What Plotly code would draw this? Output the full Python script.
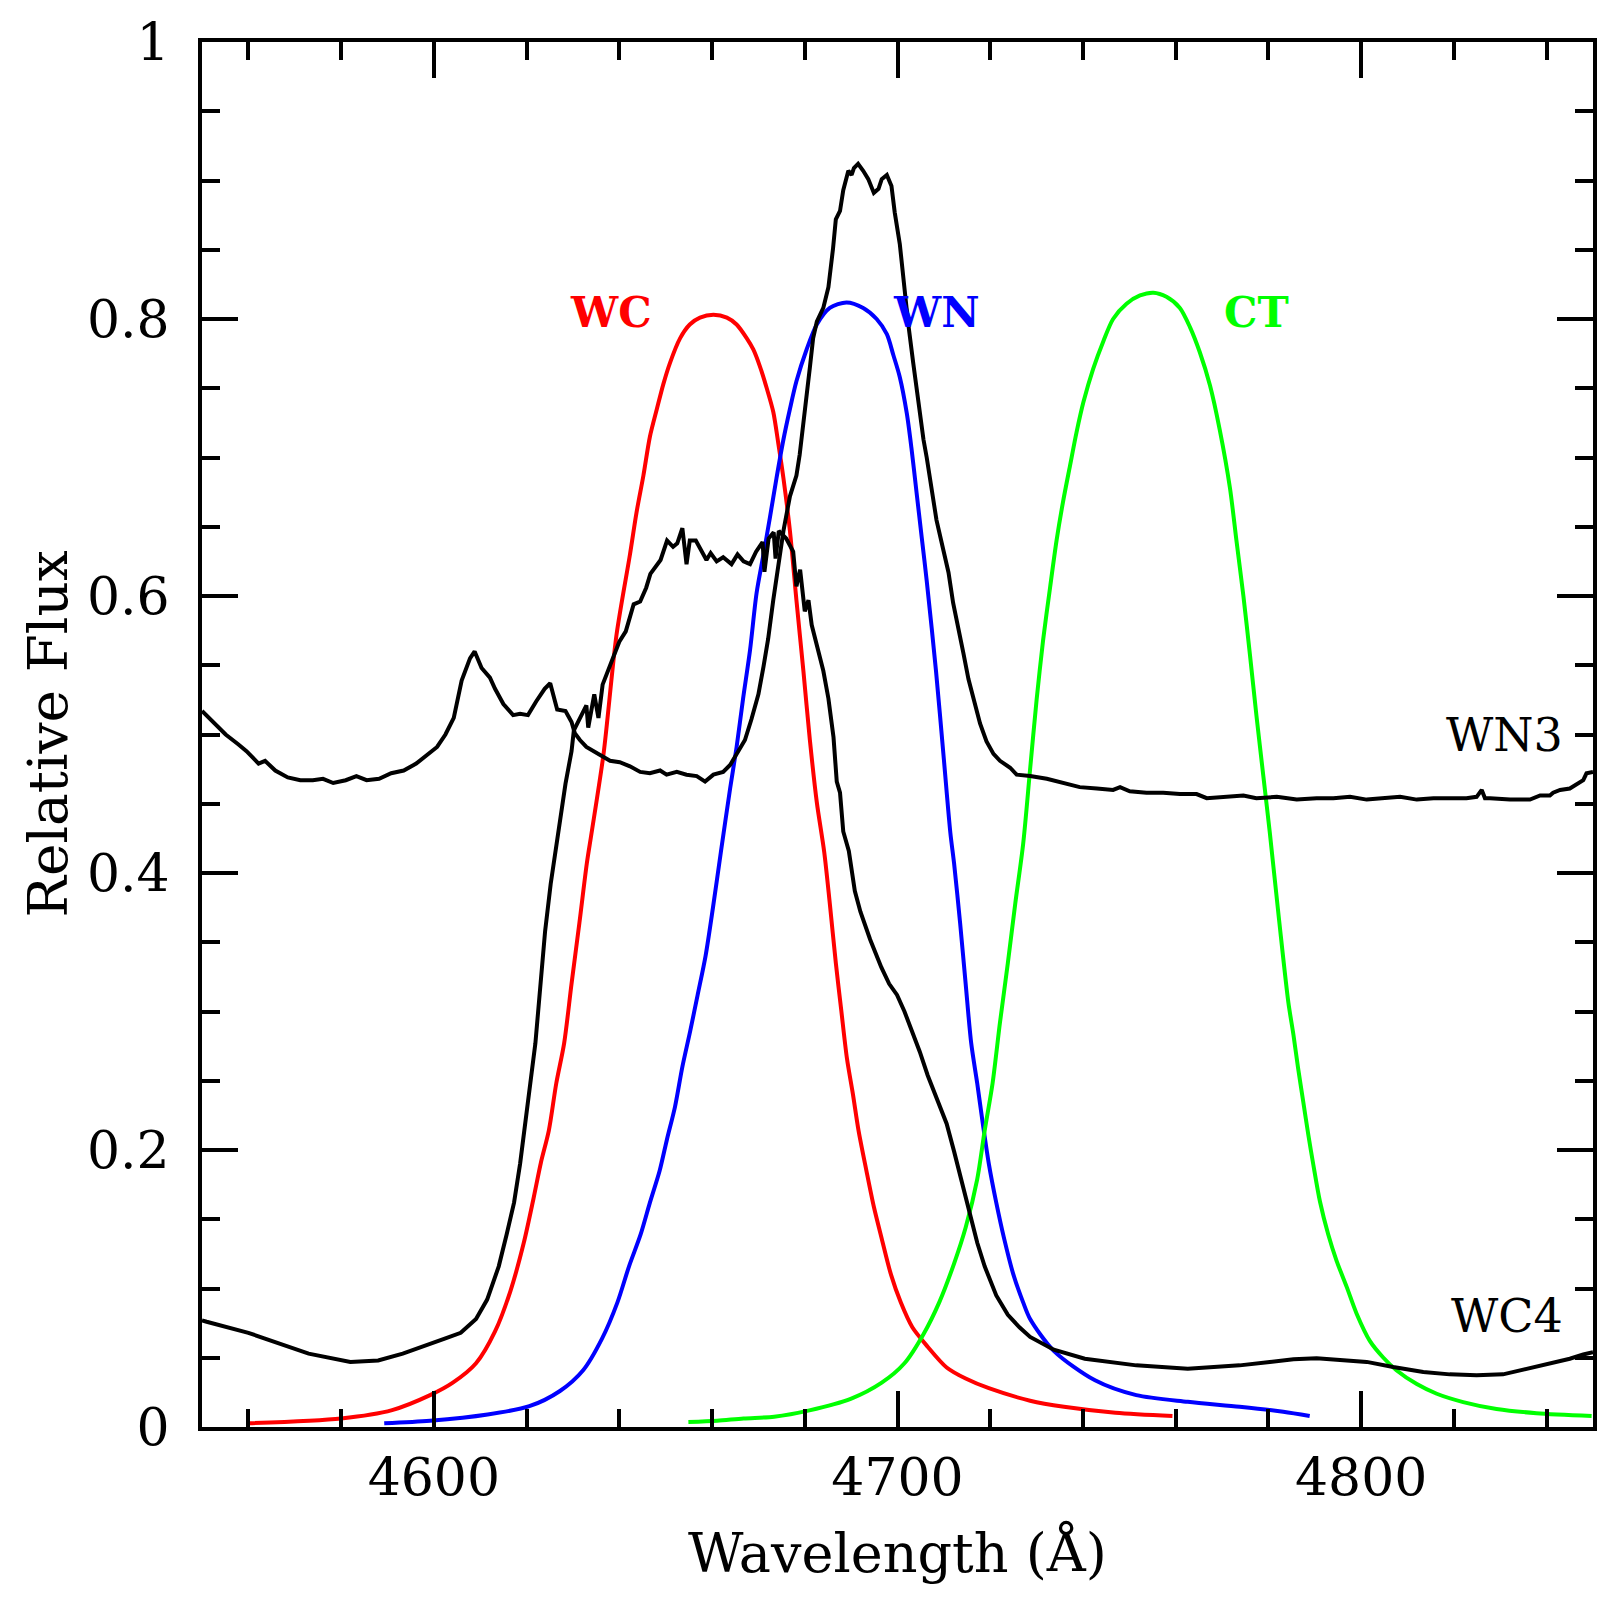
import plotly.graph_objects as go

# WN3 spectrum (upper black curve)
wn3_wave = [4550, 4550.6, 4553.3, 4555.1, 4557.8, 4559.6, 4562.2, 4563.6, 4565.8, 4568.5,
            4571.2, 4573.9, 4576.1, 4578.3, 4581.0, 4583.3, 4585.5, 4588.2, 4590.8, 4593.5,
            4596.2, 4598.9, 4600.7, 4602.5, 4604.3, 4606.0, 4607.8, 4608.8, 4610.3, 4612.1,
            4613.2, 4615.0, 4617.1, 4618.6, 4620.3, 4622.1, 4623.9, 4625.1, 4625.8, 4626.6,
            4628.4, 4629.7, 4630.4, 4631.5, 4632.9, 4634.4, 4635.8, 4638.0, 4640.1, 4642.3,
            4644.5, 4646.6, 4648.8, 4650.2, 4652.4, 4654.5, 4656.7, 4658.5, 4660.3, 4662.4,
            4663.9, 4665.3, 4667.1, 4668.5, 4670.0, 4671.1, 4672.1, 4673.2, 4674.3, 4675.4,
            4676.8, 4678.2, 4678.9, 4679.7, 4680.4, 4681.1, 4681.8, 4682.6, 4684.0, 4685.1,
            4686.1, 4686.7, 4687.6, 4688.3, 4689.4, 4690.1, 4690.6, 4691.5, 4692.6, 4693.7,
            4694.9, 4695.9, 4696.6, 4697.7, 4698.7, 4699.4, 4700.5, 4701.2, 4702.3, 4703.4,
            4704.5, 4705.6, 4706.3, 4707.4, 4708.4, 4709.9, 4711.0, 4712.0, 4713.1, 4714.2,
            4715.3, 4716.7, 4717.8, 4719.2, 4720.7, 4722.1, 4724.3, 4725.7, 4728.6, 4732.2,
            4735.8, 4739.3, 4743.0, 4746.5, 4748.0, 4750.1, 4753.7, 4757.3, 4760.9, 4764.5,
            4766.7, 4770.3, 4774.6, 4777.4, 4781.8, 4786.1, 4790.4, 4794.0, 4797.6, 4801.2,
            4804.8, 4808.4, 4812.0, 4815.6, 4819.1, 4822.7, 4824.9, 4826.0, 4826.7, 4827.8,
            4832.1, 4836.4, 4838.6, 4840.7, 4841.4, 4842.9, 4845.0, 4846.5, 4847.9, 4848.6, 4850]
wn3_flux = [0.517, 0.515, 0.507, 0.500, 0.493, 0.488, 0.479, 0.481, 0.474, 0.469,
            0.467, 0.467, 0.468, 0.465, 0.467, 0.470, 0.467, 0.468, 0.472, 0.474,
            0.479, 0.486, 0.491, 0.500, 0.512, 0.539, 0.555, 0.560, 0.548, 0.541,
            0.533, 0.522, 0.514, 0.515, 0.514, 0.524, 0.533, 0.537, 0.529, 0.518,
            0.517, 0.509, 0.501, 0.496, 0.491, 0.488, 0.486, 0.481, 0.480, 0.477,
            0.473, 0.472, 0.474, 0.471, 0.473, 0.471, 0.470, 0.466, 0.471, 0.473,
            0.478, 0.486, 0.496, 0.511, 0.529, 0.549, 0.569, 0.597, 0.622, 0.647,
            0.672, 0.687, 0.702, 0.723, 0.743, 0.765, 0.786, 0.798, 0.808, 0.823,
            0.851, 0.872, 0.878, 0.893, 0.907, 0.904, 0.909, 0.912, 0.907, 0.901,
            0.891, 0.894, 0.901, 0.904, 0.896, 0.877, 0.854, 0.829, 0.797, 0.768,
            0.739, 0.713, 0.700, 0.675, 0.655, 0.633, 0.617, 0.595, 0.578, 0.559,
            0.540, 0.521, 0.508, 0.495, 0.486, 0.481, 0.476, 0.471, 0.470, 0.468,
            0.465, 0.462, 0.461, 0.460, 0.462, 0.459, 0.458, 0.458, 0.457, 0.457,
            0.454, 0.455, 0.456, 0.454, 0.455, 0.453, 0.454, 0.454, 0.455, 0.453,
            0.454, 0.455, 0.453, 0.454, 0.454, 0.454, 0.455, 0.460, 0.454, 0.454,
            0.453, 0.453, 0.456, 0.456, 0.458, 0.460, 0.461, 0.464, 0.467, 0.472, 0.473]

# WC4 spectrum (lower black curve)
wc4_wave = [4550, 4551, 4560, 4566, 4573, 4582, 4588, 4593.3, 4598, 4602.5, 4605.8,
            4609.1, 4611.5, 4614.0, 4615.7, 4617.3, 4618.6, 4619.8, 4620.8, 4621.9, 4623.1,
            4624.0, 4625.2, 4626.4, 4627.6, 4628.4, 4629.7, 4630.2, 4632.9, 4633.3, 4634.6,
            4635.5, 4636.4, 4637.8, 4640.0, 4641.4, 4643.1, 4644.5, 4645.8, 4646.7, 4648.9,
            4650.3, 4651.6, 4652.5, 4653.6, 4654.5, 4655.2, 4656.5, 4657.4, 4658.8, 4659.7,
            4661.0, 4662.4, 4664.2, 4665.5, 4666.8, 4668.2, 4669.5, 4670.9, 4671.3, 4672.2,
            4673.3, 4673.7, 4674.4, 4676.0, 4677.5, 4678.2, 4679.0, 4680.0, 4680.8, 4681.5,
            4682.9, 4684.0, 4685.1, 4686.2, 4686.9, 4687.6, 4688.3, 4689.5, 4690.8, 4692.0,
            4694.1, 4696.5, 4698.2, 4699.9, 4701.5, 4703.2, 4704.8, 4706.5, 4708.9, 4710.6,
            4712.2, 4713.9, 4715.5, 4717.2, 4718.8, 4721.3, 4723.8, 4726.3, 4728.6, 4733.7,
            4740.4, 4751.5, 4762.6, 4773.8, 4780.3, 4785.4, 4790.4, 4795.4, 4801.2, 4806.9,
            4813.4, 4819.1, 4824.9, 4830.6, 4835.7, 4840.7, 4845.0, 4847.9, 4850]
wc4_flux = [0.077, 0.076, 0.068, 0.061, 0.053, 0.047, 0.048, 0.053, 0.059, 0.064, 0.068,
            0.078, 0.092, 0.116, 0.139, 0.162, 0.190, 0.219, 0.248, 0.277, 0.320,
            0.358, 0.392, 0.421, 0.450, 0.4645, 0.488, 0.503, 0.521, 0.505, 0.529,
            0.512, 0.536, 0.548, 0.567, 0.5745, 0.594, 0.596, 0.606, 0.616, 0.626,
            0.640, 0.6355, 0.638, 0.649, 0.623, 0.640, 0.640, 0.635, 0.626, 0.631,
            0.625, 0.628, 0.623, 0.630, 0.625, 0.623, 0.632, 0.639, 0.6175, 0.6415,
            0.646, 0.627, 0.647, 0.6415, 0.632, 0.607, 0.619, 0.589, 0.597, 0.579,
            0.559, 0.546, 0.526, 0.498, 0.466, 0.458, 0.430, 0.416, 0.387, 0.372,
            0.352, 0.332, 0.320, 0.312, 0.300, 0.286, 0.271, 0.254, 0.234, 0.219,
            0.199, 0.176, 0.153, 0.133, 0.116, 0.095, 0.081, 0.072, 0.065, 0.0558,
            0.0493, 0.0445, 0.042, 0.0445, 0.047, 0.049, 0.0497, 0.0485, 0.047, 0.0433,
            0.0397, 0.038, 0.0373, 0.038, 0.042, 0.0452, 0.0493, 0.0524, 0.054]

# WC filter (red)
wc_wave = [4560, 4580, 4591, 4599.2, 4604.1, 4609.1, 4613.2, 4616.5, 4619.4, 4621.5,
           4623.1, 4624.8, 4626.4, 4628.1, 4629.7, 4631.4, 4633.0, 4634.0, 4636.6, 4639.4,
           4642.3, 4643.7, 4645.2, 4646.6, 4648.1, 4649.5, 4650.9, 4653.1, 4655.2, 4657.4,
           4660.3, 4663.2, 4665.3, 4667.5, 4668.9, 4670.3, 4671.8, 4673.2, 4674.3, 4675.4,
           4676.8, 4678.2, 4679.7, 4681.1, 4682.6, 4684.2, 4685.4, 4686.7, 4687.9, 4689.1,
           4690.4, 4691.6, 4693.3, 4694.9, 4696.6, 4698.6, 4700.7, 4703.2, 4706.5, 4710.6,
           4714.7, 4719.7, 4728.6, 4735.9, 4747, 4759.3]
wc_flux = [0.0027, 0.0062, 0.0122, 0.023, 0.032, 0.046, 0.069, 0.098, 0.133, 0.165,
           0.191, 0.214, 0.248, 0.277, 0.320, 0.364, 0.407, 0.4285, 0.486, 0.572,
           0.630, 0.660, 0.687, 0.715, 0.735, 0.753, 0.768, 0.786, 0.796, 0.801,
           0.803, 0.801, 0.796, 0.786, 0.778, 0.766, 0.750, 0.733, 0.710, 0.685,
           0.647, 0.597, 0.546, 0.496, 0.451, 0.415, 0.378, 0.335, 0.300, 0.266,
           0.240, 0.214, 0.185, 0.159, 0.136, 0.110, 0.090, 0.072, 0.058, 0.043,
           0.035, 0.028, 0.019, 0.0146, 0.0103, 0.0079]

# WN filter (blue)
wn_wave = [4589.3, 4599.2, 4611.6, 4620.6, 4627.2, 4632.2, 4636.3, 4639.6, 4642.1, 4644.6,
           4646.6, 4648.7, 4650.3, 4652.0, 4653.6, 4655.3, 4656.9, 4658.6, 4660.2, 4661.9,
           4663.9, 4665.3, 4666.7, 4668.2, 4669.6, 4671.1, 4672.5, 4673.9, 4675.4, 4676.8,
           4678.2, 4680.4, 4682.6, 4685.4, 4689.0, 4692.6, 4695.5, 4697.7, 4699.1, 4700.5,
           4702.0, 4703.0, 4704.1, 4705.2, 4706.3, 4708.3, 4710.0, 4711.4, 4712.2, 4713.5,
           4714.7, 4715.9, 4717.2, 4718.4, 4719.7, 4721.3, 4723.0, 4725.0, 4727.1, 4728.6,
           4733.7, 4742.6, 4751.5, 4762.6, 4773.8, 4783.2, 4788.9]
wn_flux = [0.0027, 0.0045, 0.009, 0.015, 0.026, 0.041, 0.064, 0.090, 0.116, 0.139,
           0.162, 0.185, 0.208, 0.231, 0.260, 0.286, 0.312, 0.340, 0.375, 0.415,
           0.461, 0.491, 0.526, 0.561, 0.602, 0.630, 0.657, 0.685, 0.713, 0.735,
           0.755, 0.778, 0.796, 0.808, 0.812, 0.808, 0.800, 0.789, 0.774, 0.758,
           0.732, 0.707, 0.675, 0.643, 0.611, 0.546, 0.482, 0.429, 0.407, 0.364,
           0.320, 0.277, 0.248, 0.219, 0.190, 0.162, 0.136, 0.110, 0.090, 0.078,
           0.055, 0.0337, 0.023, 0.0182, 0.0146, 0.011, 0.0079]

# CT filter (green)
ct_wave = [4654.9, 4661.1, 4666.8, 4673.4, 4681.0, 4689.9, 4696.6, 4701.5, 4705.6, 4709.0,
           4712.2, 4714.7, 4717.2, 4718.8, 4720.5, 4722.1, 4723.8, 4725.4, 4727.1, 4728.6,
           4730.0, 4731.4, 4732.9, 4734.3, 4735.7, 4737.2, 4738.6, 4740.1, 4742.2, 4744.4,
           4746.5, 4749.4, 4752.3, 4755.2, 4758.0, 4760.9, 4763.1, 4765.2, 4767.4, 4769.5,
           4771.7, 4773.1, 4774.6, 4776.0, 4777.4, 4778.9, 4780.3, 4782.3, 4784.3, 4785.4,
           4786.4, 4787.5, 4788.6, 4789.7, 4791.1, 4792.9, 4794.7, 4796.9, 4799.0, 4801.9,
           4804.8, 4807.6, 4812.0, 4816.3, 4822.0, 4829.2, 4837.8, 4849.7]
ct_flux = [0.0036, 0.0045, 0.0062, 0.0074, 0.012, 0.0203, 0.032, 0.046, 0.067, 0.090,
           0.118, 0.144, 0.179, 0.214, 0.248, 0.292, 0.335, 0.378, 0.421, 0.475,
           0.525, 0.568, 0.606, 0.640, 0.668, 0.694, 0.718, 0.740, 0.764, 0.784,
           0.800, 0.811, 0.817, 0.819, 0.816, 0.808, 0.794, 0.776, 0.752, 0.720,
           0.678, 0.640, 0.600, 0.558, 0.514, 0.470, 0.429, 0.366, 0.3065, 0.283,
           0.259, 0.235, 0.211, 0.189, 0.163, 0.139, 0.120, 0.101, 0.082, 0.062,
           0.050, 0.041, 0.031, 0.024, 0.018, 0.013, 0.010, 0.008]

font = "DejaVu Serif"

fig = go.Figure()
# filter curves are smooth, draw them as splines
fig.add_trace(go.Scatter(x=wc_wave, y=wc_flux, mode="lines",
                         line=dict(color="#ff0000", width=4, shape="spline", smoothing=0.8)))
fig.add_trace(go.Scatter(x=wn_wave, y=wn_flux, mode="lines",
                         line=dict(color="#0000ff", width=4, shape="spline", smoothing=0.8)))
fig.add_trace(go.Scatter(x=ct_wave, y=ct_flux, mode="lines",
                         line=dict(color="#00ff00", width=4, shape="spline", smoothing=0.8)))
fig.add_trace(go.Scatter(x=wn3_wave, y=wn3_flux, mode="lines", line=dict(color="black", width=4)))
fig.add_trace(go.Scatter(x=wc4_wave, y=wc4_flux, mode="lines", line=dict(color="black", width=4)))

axis_style = dict(
    showgrid=False, zeroline=False,
    showline=True, linecolor="black", linewidth=4, mirror="ticks",
    ticks="inside", ticklen=36, tickwidth=3.5, tickcolor="black",
    tickfont=dict(family=font, size=52, color="black"),
)

fig.update_xaxes(range=[4550, 4850], tick0=4600, dtick=100,
                 minor=dict(dtick=20, ticks="inside", ticklen=18, tickwidth=3.5, tickcolor="black"),
                 ticklabelstandoff=2, **axis_style)
fig.update_yaxes(range=[0, 1], tick0=0, dtick=0.2,
                 minor=dict(dtick=0.05, ticks="inside", ticklen=18, tickwidth=3.5, tickcolor="black"),
                 ticklabelstandoff=18, **axis_style)

# curve labels
fig.add_annotation(x=4638.2, y=0.805, text="<b>WC</b>", showarrow=False,
                   font=dict(family=font, size=42, color="#ff0000"))
fig.add_annotation(x=4708.4, y=0.805, text="<b>WN</b>", showarrow=False,
                   font=dict(family=font, size=42, color="#0000ff"))
fig.add_annotation(x=4777.4, y=0.805, text="<b>CT</b>", showarrow=False,
                   font=dict(family=font, size=42, color="#00ff00"))
fig.add_annotation(x=4844, y=0.50, text="WN3", showarrow=False, xanchor="right",
                   font=dict(family=font, size=46, color="black"))
fig.add_annotation(x=4844, y=0.080, text="WC4", showarrow=False, xanchor="right",
                   font=dict(family=font, size=46, color="black"))

# axis titles
fig.add_annotation(x=0.5, y=0, xref="paper", yref="paper", yanchor="middle", yshift=-125,
                   text="Wavelength (Å)", showarrow=False,
                   font=dict(family=font, size=54, color="black"))
fig.add_annotation(x=0, y=0.5, xref="paper", yref="paper", xanchor="center", xshift=-155,
                   text="Relative Flux", textangle=-90, showarrow=False,
                   font=dict(family=font, size=55, color="black"))

fig.update_layout(
    width=1620, height=1607,
    margin=dict(l=202, r=27, t=34, b=180),
    paper_bgcolor="white", plot_bgcolor="white",
    showlegend=False,
)

fig.write_html("out.html", config={"displayModeBar": False},
               post_script="document.body.style.margin='0';")
